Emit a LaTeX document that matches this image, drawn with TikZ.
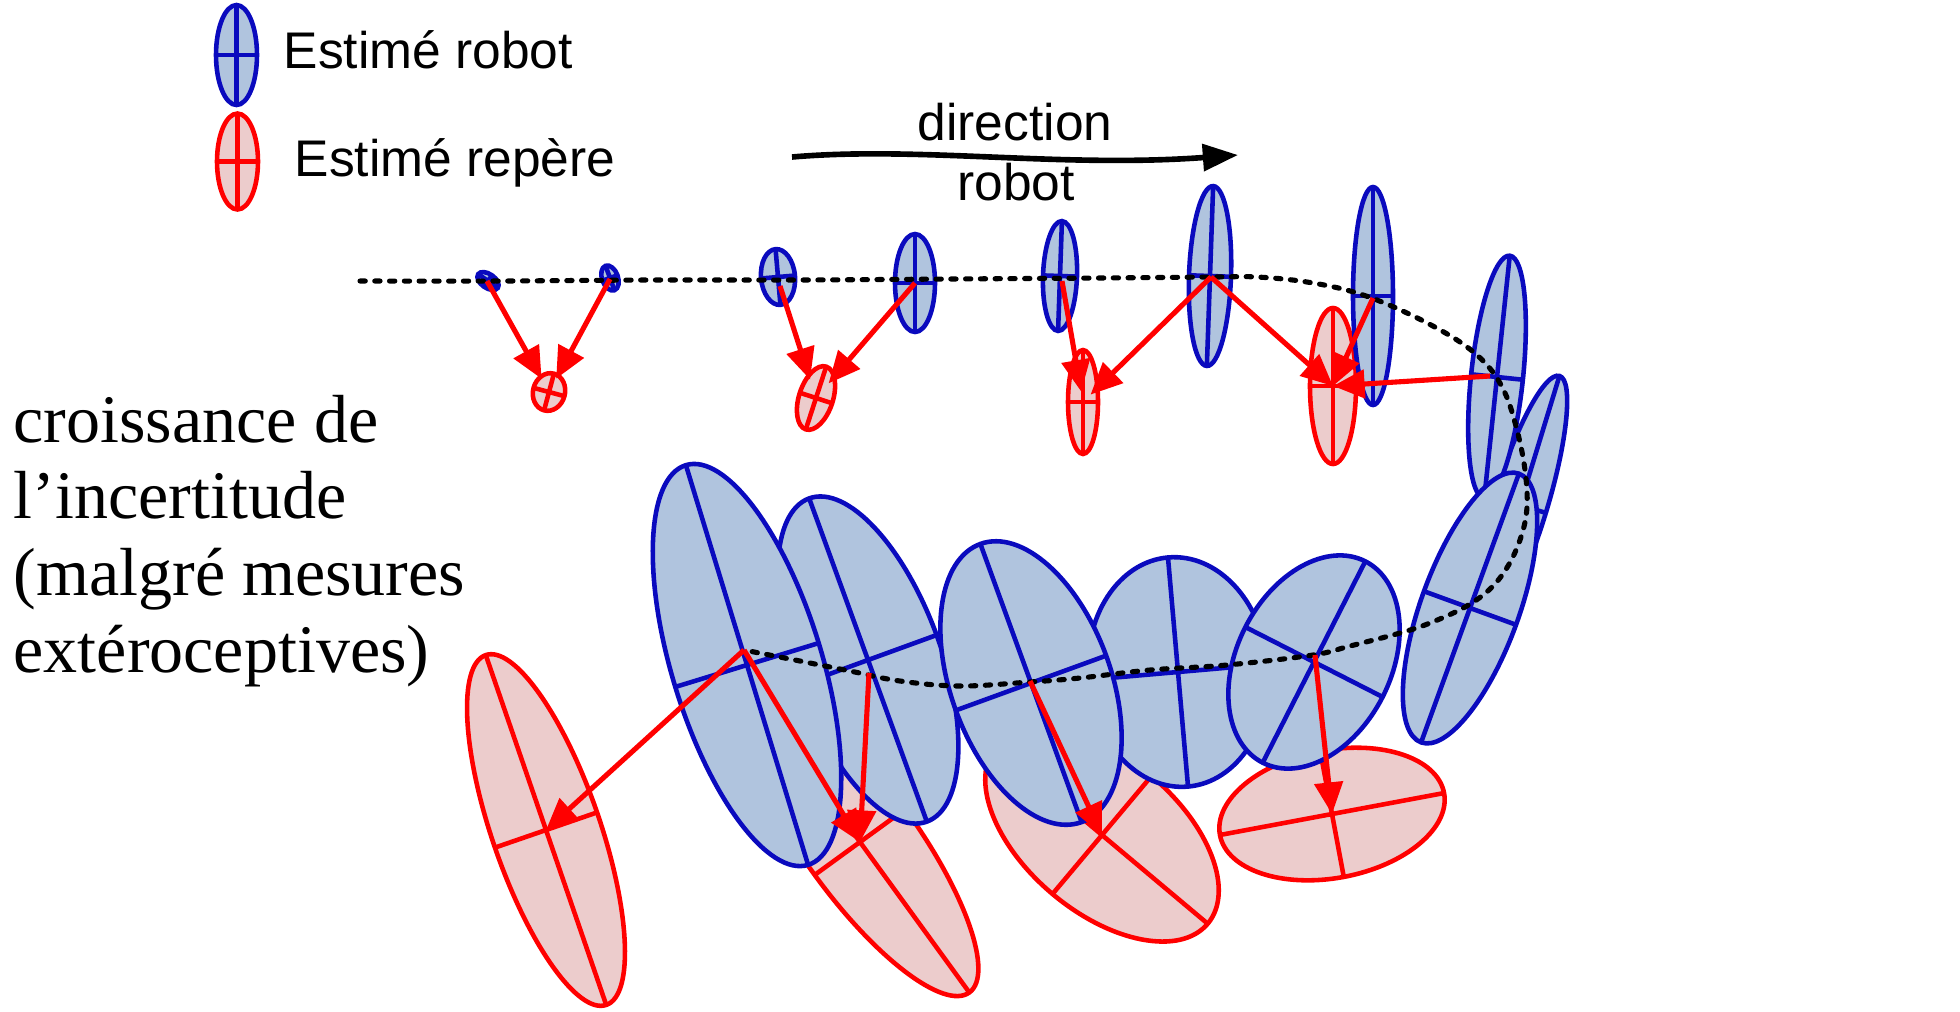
\documentclass[tikz,border=0pt]{standalone}
\usepackage{fontspec}
\usetikzlibrary{arrows.meta}
\newfontfamily\sansf{Liberation Sans}
\newfontfamily\seriff{Liberation Serif}
\definecolor{bline}{RGB}{10,10,190}
\definecolor{bfill}{RGB}{176,196,222}
\definecolor{rline}{RGB}{255,0,0}
\definecolor{rfill}{RGB}{236,204,204}
\tikzset{
  ellline/.style={line width=1.3pt},
  redarrow/.style={draw=rline, line width=1.45pt, -{Triangle[length=9pt,width=8pt]}},
  pathdots/.style={draw=black, line width=1.45pt, line cap=round, dash pattern=on 1.5pt off 2.7pt},
  sanslabel/.style={font=\sansf\fontsize{14.65}{17}\selectfont, inner sep=0pt},
  seriflabel/.style={font=\seriff\fontsize{19.35}{22}\selectfont, inner sep=0pt, anchor=base west},
  bigarrow/.style={draw=black, line width=1.6pt, -{Triangle[length=10pt,width=7.5pt]}}
}
% #1 centre, #2 x radius, #3 y radius, #4 angle, #5 line colour, #6 fill colour
\newcommand\myell[6]{%
  \begin{scope}[shift={(#1)}, rotate=#4]
    \draw[ellline, draw=#5, fill=#6] (0,0) ellipse [x radius=#2, y radius=#3];
    \draw[ellline, draw=#5] (-#2,0) -- (#2,0) (0,-#3) -- (0,#3);
  \end{scope}}
\newcommand\bell[4]{\myell{#1}{#2}{#3}{#4}{bline}{bfill}}
\newcommand\rell[4]{\myell{#1}{#2}{#3}{#4}{rline}{rfill}}
\begin{document}
\begin{tikzpicture}[x=0.01cm,y=-0.01cm]
\useasboundingbox (0,0) rectangle (1960,1011);
% ---------- coordinates
\coordinate (lb) at (236.5,55);
\coordinate (lr) at (237.5,161.5);
\coordinate (b1) at (488,281);
\coordinate (b2) at (610,278);
\coordinate (b3) at (778,277);
\coordinate (b4) at (915,283);
\coordinate (b5) at (1060,276);
\coordinate (b6) at (1210,276);
\coordinate (b7) at (1373,296);
\coordinate (b8) at (1497,377);
\coordinate (b9) at (1520,505);
\coordinate (b10) at (1470,608);
\coordinate (l5) at (1314,662);
\coordinate (l4) at (1178,672);
\coordinate (l3) at (1031,683);
\coordinate (l2) at (868,660);
\coordinate (l1) at (747,665);
\coordinate (r1) at (549,392);
\coordinate (r2) at (816,398);
\coordinate (r3) at (1083,402);
\coordinate (r4) at (1333,386);
\coordinate (r5) at (546,830);
\coordinate (r6) at (860,842);
\coordinate (r7) at (1102,835);
\coordinate (r8) at (1332,814);
\coordinate (p1) at (487,281);
\coordinate (p2) at (610,279);
\coordinate (p3) at (780,286);
\coordinate (p4) at (915,283);
\coordinate (p5) at (1062,281);
\coordinate (p6) at (1211,277);
\coordinate (p7) at (1373,298);
\coordinate (p8) at (1490,376);
\coordinate (q1) at (744,650);
\coordinate (q2) at (869,673);
\coordinate (q3) at (1030,681);
\coordinate (q5) at (1315,655);
\coordinate (da) at (792,157);
\coordinate (db) at (1238,155);
% ---------- legend
\bell{lb}{20.5}{50}{0}
\rell{lr}{20.5}{48}{0}
\node[sanslabel, anchor=base west] (legrob) at (283,68) {Estimé robot};
\node[sanslabel, anchor=base west] (legrep) at (294,176) {Estimé repère};
% ---------- direction arrow
\draw[bigarrow] (da) .. controls (920,146) and (1060,168) .. (db);
\node[sanslabel, anchor=base] (dir1) at (1015,140) {direction};
\node[sanslabel, anchor=base] (dir2) at (1016,200) {robot};
% ---------- left text
\node[seriflabel] (t1) at (13,442) {croissance de};
\node[seriflabel] (t2) at (13,518) {l’incertitude};
\node[seriflabel] (t3) at (13,595) {(malgré mesures};
\node[seriflabel] (t4) at (13,672) {extéroceptives)};
% ---------- landmark estimates (red)
\rell{r1}{16}{19}{-15}
\rell{r2}{17}{33}{-18}
\rell{r3}{15}{52}{0}
\rell{r4}{23}{78}{0}
\rell{r5}{54}{185}{19}
\rell{r6}{56}{186}{36}
\rell{r7}{138}{77}{-40}
\rell{r8}{114}{64}{10.6}
% ---------- robot estimates (blue)
\bell{b1}{12}{7}{-35}
\bell{b2}{8}{13}{20}
\bell{b3}{17}{28}{5}
\bell{b4}{20}{49}{0}
\bell{b5}{17}{55}{-2}
\bell{b6}{21}{90}{-2}
\bell{b7}{20}{109}{0}
\bell{b9}{27}{135}{-17}
\bell{b8}{26}{122}{-6}
\bell{b10}{49}{143}{-20}
\bell{l2}{73}{172}{20}
\bell{l4}{90}{115}{5}
\bell{l1}{75}{209}{17}
\bell{l3}{80}{148}{20}
\bell{l5}{77}{113}{-27}
% ---------- robot path
\draw[pathdots] plot[smooth, tension=0.6] coordinates {
 (360,281) (500,281) (650,280) (800,280) (950,279) (1100,278) (1213,277)
 (1257,277) (1307,282) (1357,293) (1407,313) (1457,340) (1487,365)
 (1505,393) (1517,430) (1525,470) (1527,507) (1521,537) (1508,566)
 (1490,589) (1465,607) (1430,623) (1400,633) (1350,646) (1313,655)
 (1227,665) (1150,670) (1080,678) (1030,682) (960,686) (900,681)
 (850,671) (800,661) (744,650)};
% ---------- observations (red arrows)
\draw[redarrow, shorten >=4.3pt] (p1) -- (r1);
\draw[redarrow, shorten >=4.3pt] (p2) -- (r1);
\draw[redarrow, shorten >=5.5pt] (p3) -- (r2);
\draw[redarrow, shorten >=5.5pt] (p4) -- (r2);
\draw[redarrow, shorten >=3pt] (p5) -- (r3);
\draw[redarrow, shorten >=3pt] (p6) -- (r3);
\draw[redarrow] (p6) -- (r4);
\draw[redarrow] (p7) -- (r4);
\draw[redarrow] (p8) -- (r4);
\draw[redarrow] (q1) -- (r5);
\draw[redarrow] (q1) -- (r6);
\draw[redarrow] (q2) -- (r6);
\draw[redarrow] (q3) -- (r7);
\draw[redarrow] (q5) -- (r8);
\end{tikzpicture}
\end{document}
